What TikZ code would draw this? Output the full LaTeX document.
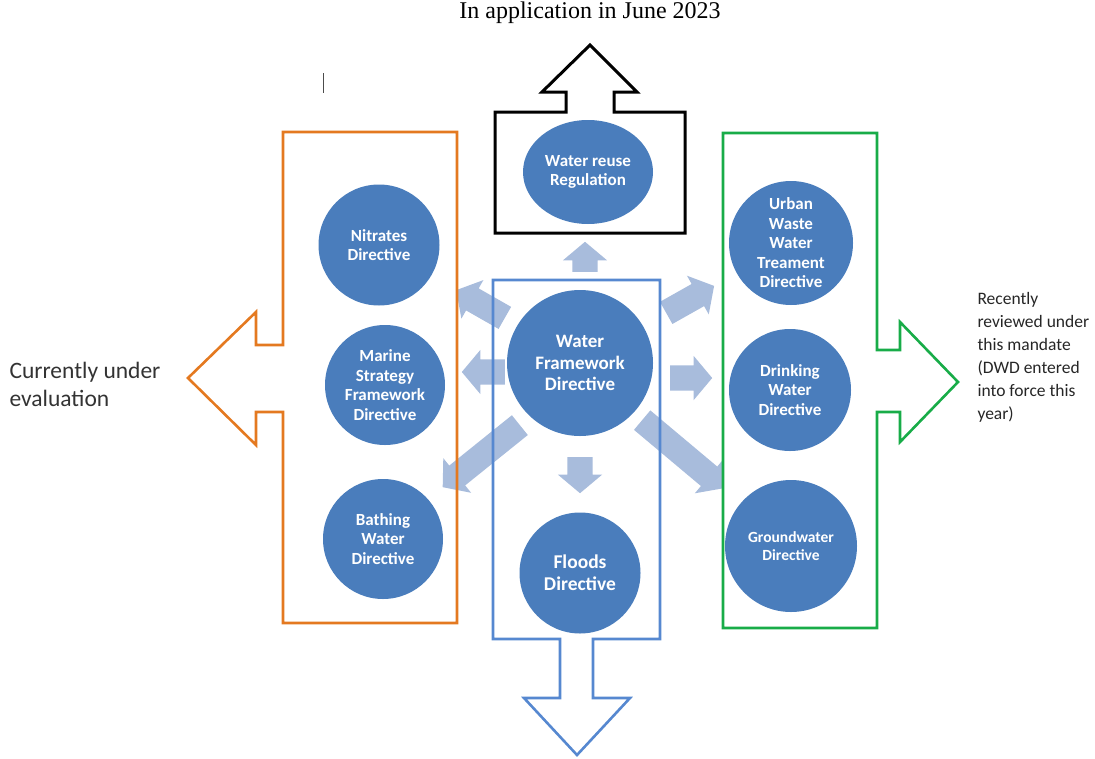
\documentclass[tikz,border=0pt]{standalone}
\usepackage{fontspec}
\setmainfont{Carlito}
\newfontfamily\titlefont{Liberation Serif}
\usetikzlibrary{shapes.geometric,shapes.arrows}

\definecolor{dirblue}{RGB}{74,125,188}
\definecolor{lightblue}{RGB}{168,188,220}
\definecolor{wfdblue}{RGB}{86,136,208}
\definecolor{evalorange}{RGB}{228,121,32}
\definecolor{reviewgreen}{RGB}{24,172,72}

\begin{document}
\begin{tikzpicture}[x=1pt, y=-1pt,
    dirnode/.style={circle, fill=dirblue, text=white, align=center, inner sep=0pt,
        font=\fontsize{17}{19.5}\selectfont\bfseries},
    lightarrow/.style={single arrow, fill=lightblue, draw=none, anchor=tail,
        inner xsep=0pt, inner ysep=12.5pt, single arrow head extend=9.5pt,
        single arrow tip angle=100},
    outline/.style={line width=2.6pt, line join=miter}]

    \useasboundingbox (0,0) rectangle (1095,758);

    % Light arrows out of the Water Framework Directive
    \node[lightarrow, rotate=90, minimum height=30] (aUp) at (585,272) {};
    \node[lightarrow, rotate=0, minimum height=42] (aRight) at (670,378) {};
    \node[lightarrow, rotate=-90, minimum height=36] (aDown) at (580,457) {};
    \node[lightarrow, rotate=180, minimum height=43] (aLeft) at (505,372) {};
    \node[lightarrow, rotate=29.4, minimum height=55] (aUpRight) at (666,313) {};
    \node[lightarrow, rotate=150.3, minimum height=56] (aUpLeft) at (505,318) {};
    \node[lightarrow, rotate=218.8, minimum height=99] (aDownLeft) at (520,425) {};
    \node[lightarrow, rotate=-40, minimum height=106] (aDownRight) at (642,420) {};

    % Outline arrows (boxes)
    % Currently under evaluation
    \draw[outline, evalorange] (457,132) -- (283,132) -- (283,345) -- (256,345) -- (256,312)
        -- (188,378) -- (256,445) -- (256,412) -- (283,412) -- (283,623) -- (457,623) -- cycle;
    % Recently reviewed
    \draw[outline, reviewgreen] (723,133) -- (877,133) -- (877,350) -- (900,350) -- (900,322)
        -- (958,382) -- (900,442) -- (900,412) -- (877,412) -- (877,628) -- (723,628) -- cycle;
    % In application
    \draw[outline, black, line width=3pt] (495,233) -- (495,112) -- (566,112) -- (566,92) -- (542,92)
        -- (590,45) -- (637,92) -- (614,92) -- (614,112) -- (685,112) -- (685,233) -- cycle;
    % Water Framework Directive box
    \draw[outline, wfdblue] (493,280) -- (660,280) -- (660,639) -- (593,639) -- (593,698)
        -- (630,698) -- (577,755) -- (524,698) -- (560,698) -- (560,639) -- (493,639) -- cycle;

    % Directives
    \node[dirnode, ellipse, minimum width=130, minimum height=104, font=\fontsize{17}{19}\selectfont\bfseries] (reuse) at (588,172) {Water reuse\\Regulation};
    \node[dirnode, minimum size=146, font=\fontsize{19}{21.5}\selectfont\bfseries] (wfd) at (580,363) {Water\\Framework\\Directive};
    \node[dirnode, minimum size=121, font=\fontsize{19.5}{22}\selectfont\bfseries] (floods) at (580,573) {Floods\\Directive};
    \node[dirnode, minimum size=121] (nitrates) at (379,245) {Nitrates\\Directive};
    \node[dirnode, minimum size=120] (marine) at (385,385) {Marine\\Strategy\\Framework\\Directive};
    \node[dirnode, minimum size=120] (bathing) at (383,539) {Bathing\\Water\\Directive};
    \node[dirnode, minimum size=124] (urban) at (791,243) {Urban\\Waste\\Water\\Treament\\Directive};
    \node[dirnode, minimum size=122] (drinking) at (790,390) {Drinking\\Water\\Directive};
    \node[dirnode, minimum size=132, font=\fontsize{15.5}{17.5}\selectfont\bfseries] (groundwater) at (791,546) {Groundwater\\Directive};

    % Labels
    \node[font=\titlefont\fontsize{24}{28}\selectfont] (applied) at (590,13) {In application in June 2023};
    \node[anchor=west, align=left, text=black!80, font=\fontsize{23.5}{28}\selectfont] (evaluated) at (6,384) {Currently under\\evaluation};
    \node[anchor=west, align=left, text=black!85, font=\fontsize{17.5}{23}\selectfont] (reviewed) at (974,357)
        {Recently\\reviewed under\\this mandate\\(DWD entered\\into force this\\year)};

    % Text cursor
    \draw[line width=1pt, black!70] (323,73) -- (323,93);

\end{tikzpicture}
\end{document}
